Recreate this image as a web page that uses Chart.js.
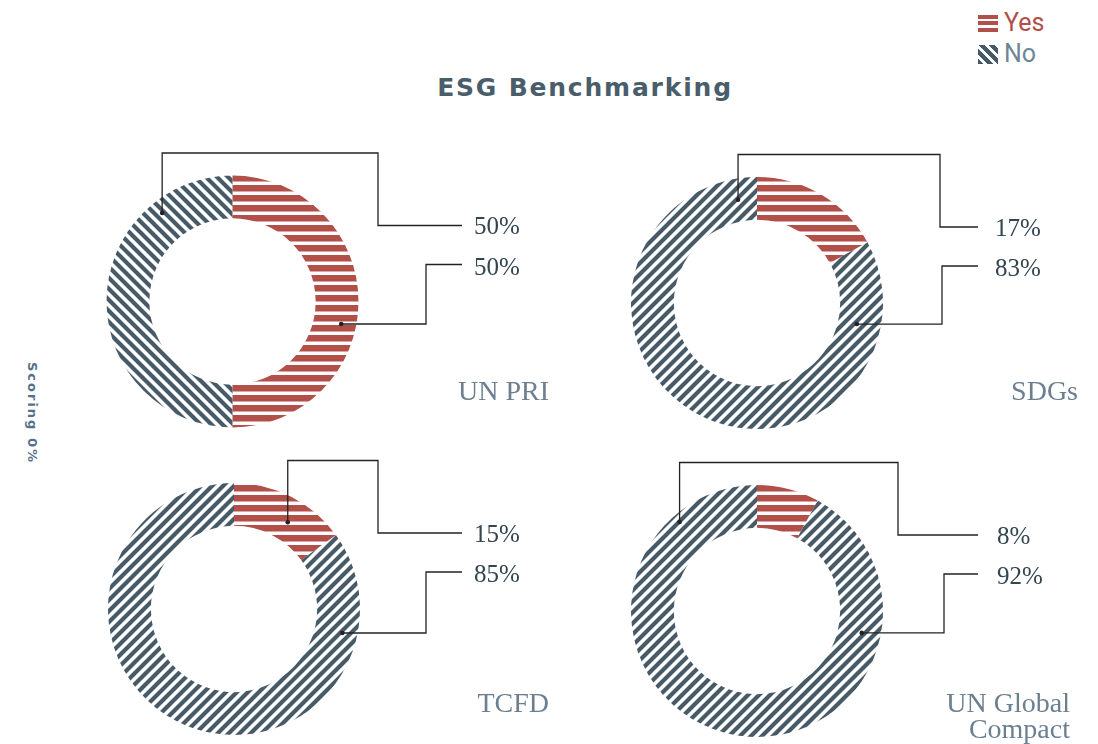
<!DOCTYPE html>
<html>
<head>
<meta charset="utf-8">
<title>ESG Benchmarking</title>
<script src="https://cdn.jsdelivr.net/npm/chart.js@4.4.1/dist/chart.umd.min.js"></script>
<style>
  body { margin: 0; background: #fff; }
  #page { position: relative; width: 1098px; height: 744px; overflow: hidden; }
  #page canvas { position: absolute; }
  #title {
    position: absolute; left: 0; width: 1170px; top: 73px; text-align: center;
    font-family: "DejaVu Sans"; font-weight: bold; font-size: 25px; letter-spacing: 1.8px; color: #4a5d6b;
  }
  #axis {
    position: absolute; left: 32px; top: 413px; transform: translate(-50%, -50%) rotate(90deg);
    font-family: "DejaVu Sans"; font-weight: bold; font-size: 13px; letter-spacing: 2px; color: #55708a;
    white-space: nowrap;
  }
  .key { position: absolute; left: 978px; font-family: Roboto; font-size: 25px; line-height: 30px; }
  .key span.sw { position: absolute; left: 0; width: 20px; }
  .key span.tx { position: absolute; left: 26px; top: 0; }
  #keyYes { top: 8px; color: #b24f49; }
  #keyNo { top: 39px; color: #6e8595; }
  #keyYes .sw { top: 7px; height: 17px; background: repeating-linear-gradient(180deg, #b24f49 0 4px, #fff 4px 6.5px); }
  #keyNo .sw { top: 6px; height: 19px; background: repeating-linear-gradient(45deg, #475a67 0 3.8px, #fff 3.8px 7px); }
</style>
</head>
<body>
<div id="page">
  <div class="key" id="keyYes"><span class="sw"></span><span class="tx">Yes</span></div>
  <div class="key" id="keyNo"><span class="sw"></span><span class="tx">No</span></div>
  <div id="title">ESG Benchmarking</div>
  <div id="axis">Scoring 0%</div>
  <canvas id="c0"></canvas>
  <canvas id="c1"></canvas>
  <canvas id="c2"></canvas>
  <canvas id="c3"></canvas>
</div>
<script>
'use strict';

// data
var frameworks = ['UN PRI', 'SDGs', 'TCFD', 'UN Global Compact'];
var nameLines = [['UN PRI'], ['SDGs'], ['TCFD'], ['UN Global', 'Compact']];
var answers = ['Yes', 'No'];
var yesShare = [50, 17, 15, 8];
var noShare = [50, 83, 85, 92];

// layout of each panel (page px): canvas box + wanted donut centre
var cells = [
    { left: 0,   top: 125, width: 580, height: 320, cx: 232.5, cy: 301.5 },
    { left: 580, top: 125, width: 518, height: 320, cx: 757,   cy: 303 },
    { left: 0,   top: 445, width: 580, height: 299, cx: 234,   cy: 609 },
    { left: 580, top: 445, width: 518, height: 299, cx: 757,   cy: 611 }
];
var RADIUS = 126;

// leader lines, relative to donut centre (angle in degrees clockwise from 12 o'clock)
var leaders = [
    { a1: 321.5, r1: 113, elbow1: 145.5, a2: 101.7, r2: 111, elbow2: 193.5, end: 229.5, textX: 241.5, nameX: 316.5, nameY: 98.5, slash: '\\' },
    { a1: 349.6, r1: 105, elbow1: 183,   a2: 101.9, r2: 102, elbow2: 185,   end: 221,   textX: 238,   nameX: 321,   nameY: 97,   slash: '/' },
    { a1: 31.8,  r1: 102, elbow1: 144,   a2: 102.5, r2: 111, elbow2: 192,   end: 228,   textX: 240,   nameX: 315,   nameY: 103,  slash: '/' },
    { a1: 319,   r1: 118, elbow1: 141,   a2: 101.8, r2: 107, elbow2: 187,   end: 221,   textX: 240,   nameX: 313,   nameY: 101,  slash: '/' }
];

var RED = '#b24f49';
var SLATE = '#475a67';

function stripesH(color) {
    var t = document.createElement('canvas');
    t.width = 10; t.height = 10;
    var c = t.getContext('2d');
    c.fillStyle = color;
    c.fillRect(0, 0, 10, 6.5);
    return c.createPattern(t, 'repeat');
}

function stripesD(color, dir) {
    var s = 11;
    var t = document.createElement('canvas');
    t.width = s; t.height = s;
    var c = t.getContext('2d');
    c.strokeStyle = color;
    c.lineWidth = 4.2;
    c.beginPath();
    if (dir === '/') {
        c.moveTo(-s, s); c.lineTo(s, -s);
        c.moveTo(0, s); c.lineTo(s, 0);
        c.moveTo(0, 2 * s); c.lineTo(2 * s, 0);
    } else {
        c.moveTo(0, -s); c.lineTo(2 * s, s);
        c.moveTo(0, 0); c.lineTo(s, s);
        c.moveTo(-s, 0); c.lineTo(s, 2 * s);
    }
    c.stroke();
    return c.createPattern(t, 'repeat');
}

var leaderPlugin = {
    id: 'leaders',
    afterDatasetsDraw: function (chart, args, opts) {
        var i = opts.index;
        var L = leaders[i];
        var arc = chart.getDatasetMeta(0).data[0];
        var cx = arc.x, cy = arc.y;
        var ctx = chart.ctx;
        var rad = Math.PI / 180;
        var p1 = { x: cx + L.r1 * Math.sin(L.a1 * rad), y: cy - L.r1 * Math.cos(L.a1 * rad) };
        var p2 = { x: cx + L.r2 * Math.sin(L.a2 * rad), y: cy - L.r2 * Math.cos(L.a2 * rad) };
        var top = cy - 148.5;
        var y1 = cy - 76, y2 = cy - 37;

        ctx.save();
        ctx.strokeStyle = '#222';
        ctx.lineWidth = 1.3;
        ctx.beginPath();
        ctx.moveTo(p1.x, p1.y);
        ctx.lineTo(p1.x, top);
        ctx.lineTo(cx + L.elbow1, top);
        ctx.lineTo(cx + L.elbow1, y1);
        ctx.lineTo(cx + L.end, y1);
        ctx.moveTo(p2.x, p2.y);
        ctx.lineTo(cx + L.elbow2, p2.y);
        ctx.lineTo(cx + L.elbow2, y2);
        ctx.lineTo(cx + L.end, y2);
        ctx.stroke();
        ctx.fillStyle = '#222';
        [p1, p2].forEach(function (p) {
            ctx.beginPath();
            ctx.arc(p.x, p.y, 2.3, 0, Math.PI * 2);
            ctx.fill();
        });

        // percentages
        ctx.font = '25px "Liberation Serif"';
        ctx.fillStyle = '#33454f';
        ctx.textAlign = 'left';
        ctx.textBaseline = 'alphabetic';
        ctx.fillText(yesShare[i] + '%', cx + L.textX, cy - 67.5);
        ctx.fillText(noShare[i] + '%', cx + L.textX, cy - 27);

        // framework name
        ctx.font = '28px "Liberation Serif"';
        ctx.fillStyle = '#6b7f8f';
        ctx.textAlign = 'right';
        nameLines[i].forEach(function (line, k) {
            ctx.fillText(line, cx + L.nameX, cy + L.nameY + k * 26);
        });
        ctx.restore();
    }
};

var charts = [];
for (var i = 0; i < frameworks.length; i++) {
    var cell = cells[i];
    var cv = document.getElementById('c' + i);
    cv.width = cell.width;
    cv.height = cell.height;
    cv.style.left = cell.left + 'px';
    cv.style.top = cell.top + 'px';

    var pad = {
        left: cell.cx - cell.left - RADIUS,
        right: cell.left + cell.width - (cell.cx + RADIUS),
        top: cell.cy - cell.top - RADIUS,
        bottom: cell.top + cell.height - (cell.cy + RADIUS)
    };

    charts.push(new Chart(cv, {
        type: 'doughnut',
        data: {
            labels: answers,
            datasets: [{
                label: frameworks[i],
                data: [yesShare[i], noShare[i]],
                backgroundColor: [stripesH(RED), stripesD(SLATE, leaders[i].slash)],
                borderWidth: 0,
                hoverOffset: 0
            }]
        },
        options: {
            responsive: false,
            animation: false,
            events: [],
            cutout: '66%',
            layout: { padding: pad },
            plugins: {
                legend: { display: false },
                tooltip: { enabled: false },
                leaders: { index: i }
            }
        },
        plugins: [leaderPlugin]
    }));
}
</script>
</body>
</html>
